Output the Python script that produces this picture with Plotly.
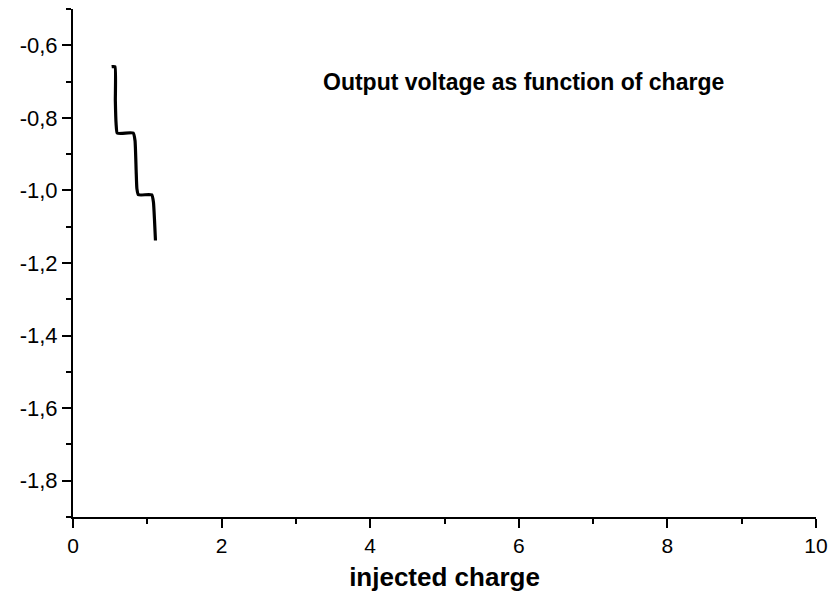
import plotly.graph_objects as go

# Data
charge = [0.52, 0.565, 0.57, 0.58, 0.596, 0.81, 0.835, 0.85, 0.86, 0.88, 1.06, 1.083, 1.097, 1.11]
voltage = [-0.659, -0.659, -0.753, -0.816, -0.842, -0.842, -0.863, -0.945, -0.995, -1.012, -1.012, -1.033, -1.082, -1.138]

y_tickvals = [-0.6, -0.8, -1.0, -1.2, -1.4, -1.6, -1.8]
y_ticktext = ["-0,6", "-0,8", "-1,0", "-1,2", "-1,4", "-1,6", "-1,8"]
x_tickvals = [0, 2, 4, 6, 8, 10]
x_ticktext = ["0", "2", "4", "6", "8", "10"]

FONT = "Arial, Liberation Sans, sans-serif"

fig = go.Figure()
fig.add_trace(go.Scatter(
    x=charge, y=voltage, mode="lines",
    line=dict(color="black", width=3.2, shape="spline", smoothing=0.4),
    showlegend=False, hoverinfo="skip",
))

# page body adds an 8px offset; figure sized to fit the window
fig.update_layout(
    width=832, height=588,
    margin=dict(l=65, r=24, t=1, b=79),
    paper_bgcolor="white", plot_bgcolor="white",
    font=dict(family=FONT, color="black", size=21),
    xaxis=dict(
        range=[0, 10], showgrid=False, zeroline=False,
        showline=True, linecolor="black", linewidth=2,
        ticks="outside", ticklen=9, tickwidth=2, tickcolor="black",
        tickvals=x_tickvals, ticktext=x_ticktext,
        tickfont=dict(size=21, family=FONT),
        minor=dict(ticks="outside", ticklen=5, tickwidth=2, tickcolor="black", dtick=1, showgrid=False),
        title=dict(text="<b>injected charge</b>", font=dict(size=26, family=FONT), standoff=12),
    ),
    yaxis=dict(
        range=[-1.9, -0.5], showgrid=False, zeroline=False,
        showline=True, linecolor="black", linewidth=2,
        ticks="outside", ticklen=9, tickwidth=2, tickcolor="black",
        tickvals=y_tickvals, ticktext=y_ticktext,
        tickfont=dict(size=22, family=FONT),
        minor=dict(ticks="outside", ticklen=5, tickwidth=2, tickcolor="black", tick0=-0.5, dtick=0.1, showgrid=False),
    ),
    annotations=[dict(
        text="<b>Output voltage as function of charge</b>",
        xref="paper", yref="paper", x=(523.5 - 73) / 743, y=(517 - 81.7) / 508,
        xanchor="center", yanchor="middle", showarrow=False,
        font=dict(size=23, family=FONT, color="black"),
    )],
)

fig.write_html("out.html")
